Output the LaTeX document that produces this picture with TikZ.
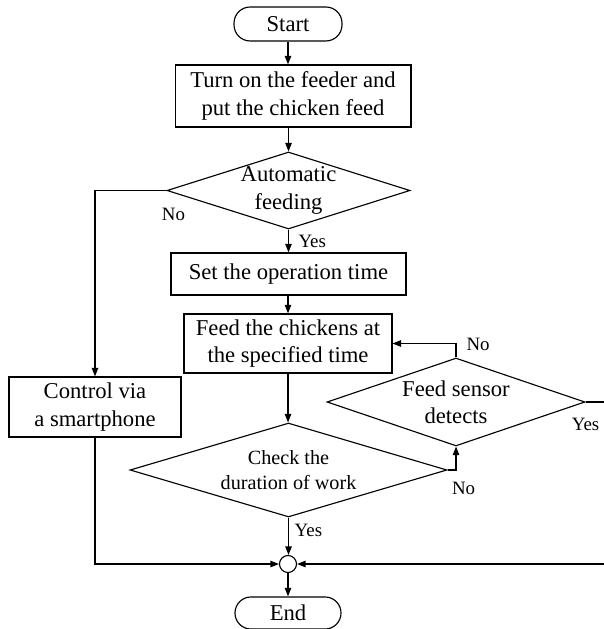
\documentclass[tikz,border=0pt]{standalone}
\usepackage{fontspec}
\setmainfont{Liberation Serif}
\usepackage{tikz}
\usetikzlibrary{arrows.meta,positioning,shapes.geometric}

\begin{document}
\begin{tikzpicture}[
  x=0.53pt,y=-0.53pt,
  font=\fontsize{12}{14.4}\selectfont,
  box/.style={draw,line width=0.6pt,align=center,inner sep=1pt},
  term/.style={draw,line width=0.6pt,rounded corners=8.5pt,inner sep=1pt},
  dec/.style={diamond,draw,line width=0.6pt,align=center,inner sep=-2pt},
  lbl/.style={font=\fontsize{10}{12}\selectfont,inner sep=0pt},
  arr/.style={-{Triangle[length=4.5pt,width=3.4pt]},line width=0.6pt}]
  \useasboundingbox (0,0) rectangle (603,629);
  % main column
  \node[term,minimum width=57.2pt,minimum height=18pt] (start) at (288,24) {Start};
  \node[box,minimum width=125pt,minimum height=32.9pt] (feeder) at (293,96)
    {Turn on the feeder and\\put the chicken feed};
  \node[dec,shape aspect=3.16,minimum width=128.8pt,minimum height=40.8pt] (auto) at (288.5,190.5)
    {Automatic\\feeding};
  \node[box,minimum width=124.6pt,minimum height=22.3pt] (settime) at (288.5,274)
    {Set the operation time};
  \node[box,minimum width=110.2pt,minimum height=31.3pt] (feed) at (288,343.5)
    {Feed the chickens at\\the specified time};
  \node[dec,shape aspect=3.37,minimum width=168pt,minimum height=49.8pt,
    font=\fontsize{10.7}{13}\selectfont] (check) at (288.5,470) {Check the\\duration of work};
  \node[circle,draw,line width=0.6pt,minimum size=9pt,inner sep=0pt] (merge) at (288,564) {};
  \node[term,minimum width=56.2pt,minimum height=17pt] (end) at (288,613) {End};
  % side branches
  \node[box,minimum width=91.2pt,minimum height=31.8pt] (phone) at (95,407)
    {Control via\\a smartphone};
  \node[dec,shape aspect=2.93,minimum width=136.7pt,minimum height=46.6pt] (sensor) at (456,402)
    {Feed sensor\\detects};
  \coordinate[right=15pt of sensor.east] (rt);
  % connectors
  \draw[arr] (start) -- (feeder.north -| start);
  \draw[arr] (feeder.south -| auto) -- (auto.north);
  \draw[arr] (auto.south) -- node[lbl,midway,right=5pt] (yesA) {Yes} (settime.north -| auto.south);
  \draw[arr] (auto.west) -| node[lbl,at start,xshift=3.7pt,yshift=-12.7pt] (noA) {No} (phone.north);
  \draw[arr] (settime.south -| feed) -- (feed.north);
  \draw[arr] (feed.south) -- (check.north -| feed.south);
  \draw[arr] (check.east) -| node[lbl,at start,xshift=8.5pt,yshift=-9.5pt] (noB) {No} (sensor.south);
  \draw[arr] (sensor.north) |- node[lbl,at start,xshift=11.7pt,yshift=6.9pt] (noC) {No} (feed.east);
  \draw[arr] (sensor.east) -- node[lbl,at start,yshift=-11.7pt] (yesC) {Yes} (rt) |- (merge.east);
  \draw[arr] (check.south) -- node[lbl,pos=0.35,right=3pt] (yesB) {Yes} (merge.north -| check.south);
  \draw[arr] (phone.south) |- (merge.west);
  \draw[arr] (merge.south) -- (end.north -| merge.south);
\end{tikzpicture}
\end{document}
